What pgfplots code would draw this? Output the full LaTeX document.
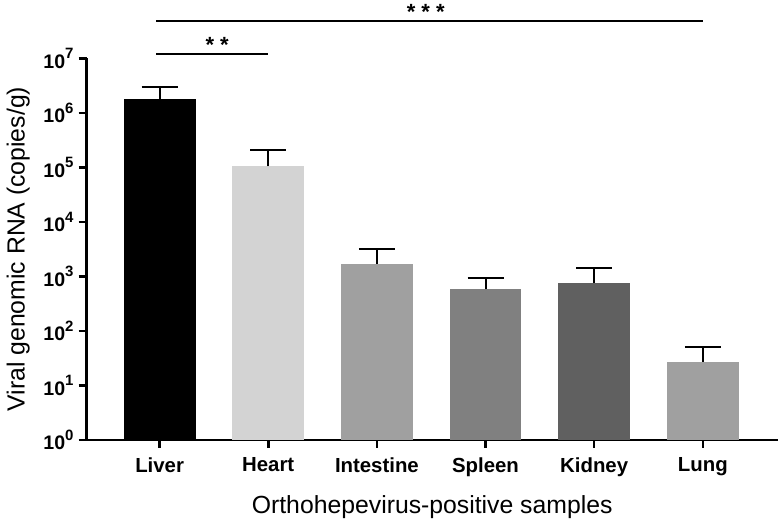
\documentclass[border=0pt]{standalone}
\usepackage{pgfplots}
\pgfplotsset{compat=1.18}
\usepackage{fontspec}
\setmainfont{Liberation Sans}
\newcommand{\tp}[1]{\textbf{10}\raisebox{0.5em}{\fontsize{7.5}{8}\selectfont\bfseries #1}}
\begin{document}
\begin{tikzpicture}
\begin{axis}[
  scale only axis,
  width=346pt, height=191pt,
  ymode=log, ymin=1, ymax=1e7, log origin=infty,
  xmin=-0.672, xmax=5.69,
  axis lines=left,
  axis line style={line width=1.25pt, -},
  every tick/.style={line width=1.25pt, black},
  tick align=outside,
  major tick length=4pt,
  ytick={1,10,100,1000,10000,100000,1000000,10000000},
  yticklabels={\tp{0},\tp{1},\tp{2},\tp{3},\tp{4},\tp{5},\tp{6},\tp{7}},
  yminorticks=false,
  xtick={0,1,2,3,4,5},
  xticklabels={Liver,Heart,Intestine,Spleen,Kidney,Lung},
  xticklabel style={font=\fontsize{10.2}{12}\selectfont\bfseries, yshift=-1.5pt},
  yticklabel style={font=\fontsize{9.8}{11}\selectfont\bfseries, xshift=1pt},
  ylabel={Viral genomic RNA (copies/g)},
  xlabel={Orthohepevirus-positive samples},
  label style={font=\fontsize{12.4}{14}\selectfont},
  xlabel style={yshift=-2.5pt},
  ybar, bar width=36pt, bar shift=0pt,
  clip=false,
  error bars/y dir=plus, error bars/y explicit,
  error bars/error bar style={line width=1pt, black},
  error bars/error mark options={rotate=90, line width=1pt, black, mark size=9pt},
]
\addplot[fill=black, draw=none] coordinates {(0,1810000) +- (0,1190000)};
\addplot[fill={rgb,255:red,211;green,211;blue,211}, draw=none] coordinates {(1,104000) +- (0,106000)};
\addplot[fill={rgb,255:red,160;green,160;blue,160}, draw=none] coordinates {(2,1700) +- (0,1500)};
\addplot[fill={rgb,255:red,128;green,128;blue,128}, draw=none] coordinates {(3,580) +- (0,340)};
\addplot[fill={rgb,255:red,96;green,96;blue,96}, draw=none] coordinates {(4,770) +- (0,680)};
\addplot[fill={rgb,255:red,160;green,160;blue,160}, draw=none] coordinates {(5,27) +- (0,23)};
\draw[line width=1.25pt] (axis cs:-0.03,4.86e7) -- (axis cs:5.0,4.86e7);
\draw[line width=1.25pt] (axis cs:-0.03,1.21e7) -- (axis cs:1.0,1.21e7);
\node[font=\fontsize{11}{12}\selectfont\bfseries, inner sep=0pt, anchor=north] at (axis cs:2.45,1.01e8) {* * *};
\node[font=\fontsize{11}{12}\selectfont\bfseries, inner sep=0pt, anchor=north] at (axis cs:0.53,2.51e7) {* *};
\end{axis}
\path (current bounding box.south) ++(0,-2pt);
\path (current bounding box.north) ++(0,2pt);
\end{tikzpicture}
\end{document}
